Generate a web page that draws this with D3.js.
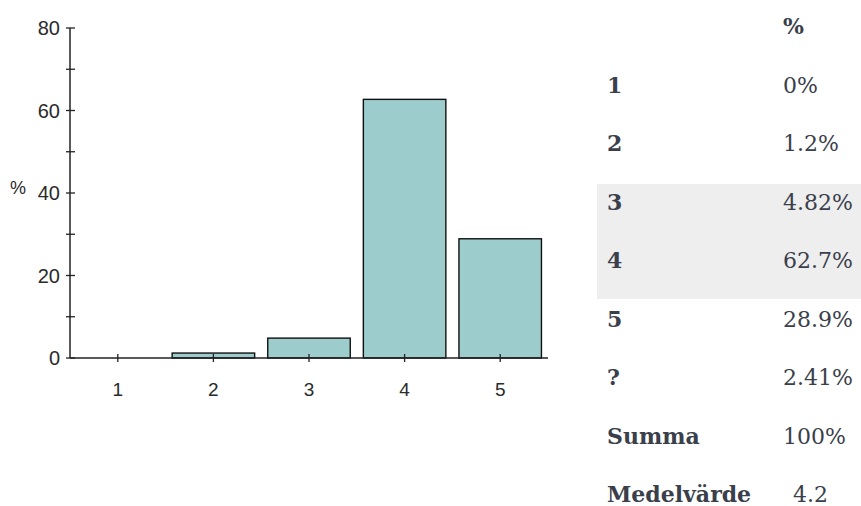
<!DOCTYPE html>
<html><head><meta charset="utf-8">
<script src="https://cdn.jsdelivr.net/npm/d3@7"></script>
<style>body{margin:0;background:#fff}svg{display:block}</style>
</head><body>
<svg id="c" width="861" height="506"></svg>
<script>
const categories = ["1","2","3","4","5"];
const values = [0, 1.2, 4.82, 62.7, 28.9];
const yTicks = [0,20,40,60,80];
const yMinor = [10,30,50,70];
const tableLabels = ["1","2","3","4","5","?","Summa","Medelvärde"];
const tableValues = ["0%","1.2%","4.82%","62.7%","28.9%","2.41%","100%","4.2"];
const tableHeader = "%";
const highlighted = ["3","4"];

const svg = d3.select("#c");
const x = d3.scaleBand().domain(categories).range([70,548]).paddingInner(0.137).paddingOuter(0.0685);
const y = d3.scaleLinear().domain([0,80]).range([358,28]);

const font = "'Liberation Sans', Arial, sans-serif";
const axisCol = "#222";

// bars
svg.append("g").selectAll("rect").data(values.map((v,i)=>({c:categories[i],v})).filter(d=>d.v>0))
  .join("rect")
  .attr("x", d=>x(d.c)).attr("width", x.bandwidth())
  .attr("y", d=>y(d.v)).attr("height", d=>y(0)-y(d.v))
  .attr("fill","#9ccccc").attr("stroke","#111").attr("stroke-width",1.4);

// y axis
const ya = svg.append("g");
ya.append("line").attr("x1",70).attr("x2",70).attr("y1",y(80)).attr("y2",y(0)).attr("stroke",axisCol).attr("stroke-width",1.5);
ya.selectAll("line.t").data(yTicks.concat(yMinor)).join("line").attr("class","t")
  .attr("x1",66).attr("x2",75).attr("y1",d=>y(d)).attr("y2",d=>y(d)).attr("stroke",axisCol).attr("stroke-width",1.3);
ya.selectAll("text.yl").data(yTicks).join("text").attr("class","yl")
  .attr("x",60).attr("y",d=>y(d)+7).attr("text-anchor","end")
  .style("font-family",font).style("font-size","20px").attr("fill","#2a2a2a").text(d=>d);
svg.append("text").attr("x",10).attr("y",194).style("font-family",font).style("font-size","18px").attr("fill","#2a2a2a").text("%");

// x axis
const xa = svg.append("g");
xa.append("line").attr("x1",70).attr("x2",548).attr("y1",y(0)).attr("y2",y(0)).attr("stroke",axisCol).attr("stroke-width",1.5);
xa.selectAll("line.t").data(categories).join("line").attr("class","t")
  .attr("x1",d=>x(d)+x.bandwidth()/2).attr("x2",d=>x(d)+x.bandwidth()/2)
  .attr("y1",y(0)-4).attr("y2",y(0)+4).attr("stroke",axisCol).attr("stroke-width",1.3);
xa.selectAll("text.xl").data(categories).join("text").attr("class","xl")
  .attr("x",d=>x(d)+x.bandwidth()/2).attr("y",396).attr("text-anchor","middle")
  .style("font-family",font).style("font-size","19px").attr("fill","#2a2a2a").text(d=>d);

// table
const tfont = "'DejaVu Serif', serif";
const tcol = "#3a404b";
const tsize = "22px";
const rowY = d3.scalePoint().domain(["h"].concat(tableLabels)).range([34,502]);
const tg = svg.append("g");
tg.selectAll("rect").data([highlighted]).join("rect")
  .attr("x",597).attr("width",264)
  .attr("y",d=>rowY(d[0])-25.5).attr("height",d=>rowY(d[d.length-1])+31-(rowY(d[0])-25.5)).attr("fill","#eeeeee");
tg.append("text").attr("x",783).attr("y",rowY("h")).style("font-family",tfont).style("font-size",tsize).attr("font-weight","bold").attr("fill",tcol).text(tableHeader);
tg.selectAll("text.l").data(tableLabels).join("text").attr("class","l")
  .attr("x",607).attr("y",d=>rowY(d)).style("font-family",tfont).style("font-size",tsize).attr("font-weight","bold").attr("fill",tcol).text(d=>d);
tg.selectAll("text.v").data(tableValues).join("text").attr("class","v")
  .attr("x",(d,i)=> i===7?793:783).attr("y",(d,i)=>rowY(tableLabels[i])).style("font-family",tfont).style("font-size",tsize).attr("fill",tcol).text(d=>d);
</script>
</body></html>
